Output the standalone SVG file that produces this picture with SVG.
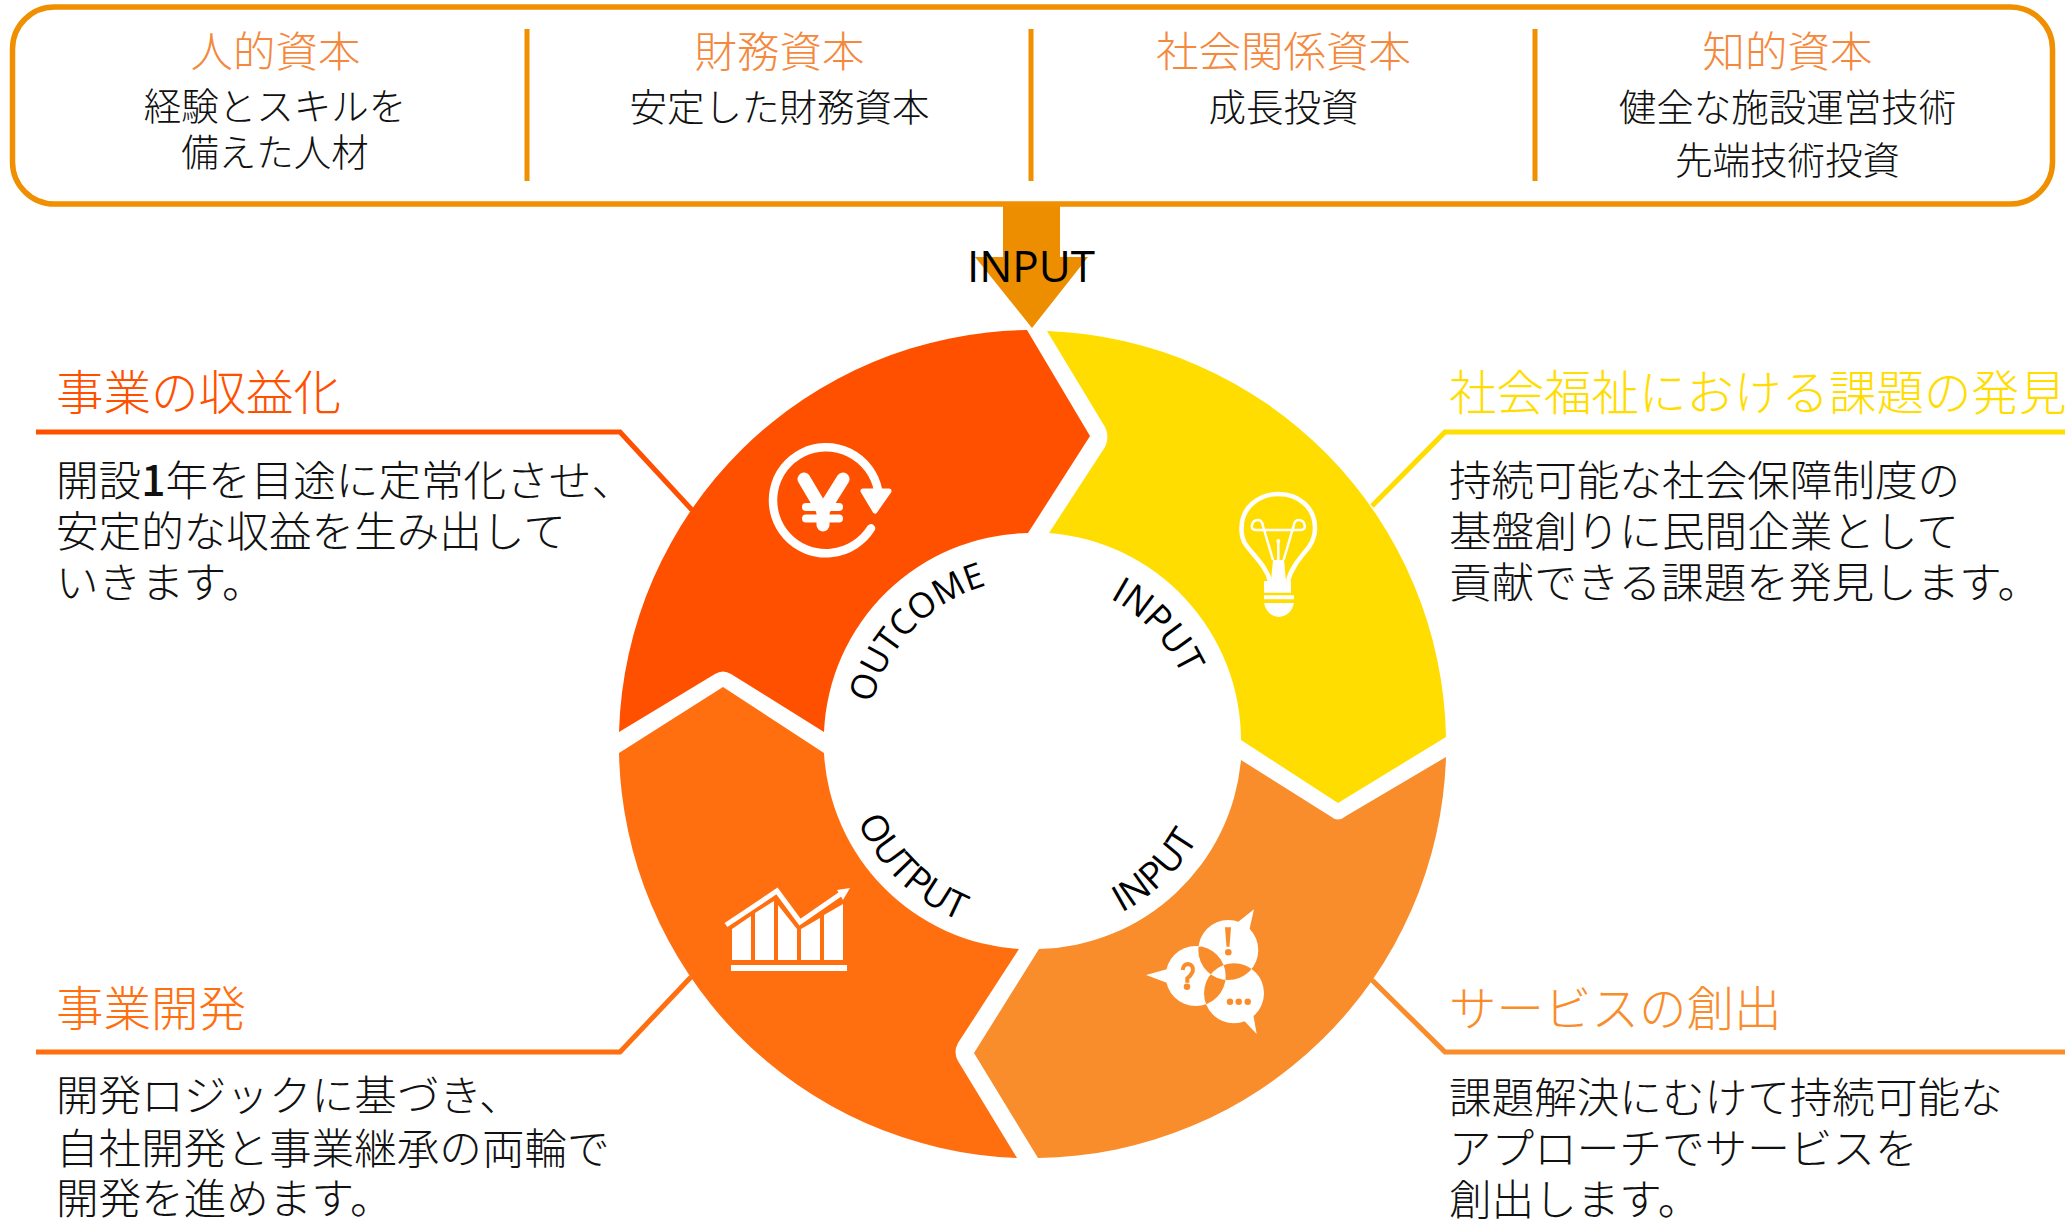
<svg xmlns="http://www.w3.org/2000/svg" width="2065" height="1219" viewBox="0 0 2065 1219">
<style>
text{font-family:"Noto Sans CJK JP","Noto Sans",sans-serif;font-weight:300}
.h{font-size:42.500px;fill:#F4883C;text-anchor:middle}
.b{font-size:37.500px;fill:#111;text-anchor:middle}
.t{font-size:47.500px}
.p{font-size:42.600px;fill:#111}
.c{font-family:"Open Sans","Noto Sans",sans-serif;fill:#000;font-weight:400;text-anchor:middle}
.ln{fill:none;stroke-width:5}
.w{fill:#fff}
.o{fill:#F98D2B}
</style>
<defs>
<path id="arcT" d="M867 744A165 165 0 0 1 1197 744"/>
<path id="arcB" d="M841 744A191 191 0 0 0 1223 744"/>
</defs>
<rect width="2065" height="1219" fill="#fff"/>
<g id="connectors">
<path class="ln" stroke="#FF5000" d="M36 432H620L692 510"/>
<path class="ln" stroke="#FFDD00" d="M2065 432H1445L1372 506"/>
<path class="ln" stroke="#FF6F0F" d="M36 1052H620L691 977"/>
<path class="ln" stroke="#F98D2B" d="M2065 1052H1445L1372 980"/>
<path fill="#ED8E00" d="M1003 204H1060V257H1088L1032 328L975 257H1003Z"/>
</g>
<g id="capital-box">
<rect x="12.500" y="7" width="2040" height="197" rx="42" ry="42" fill="none" stroke="#F09000" stroke-width="5.500"/>
<path stroke="#F09000" stroke-width="5" d="M527 29V181M1031 29V181M1535 29V181"/>
<text class="h" x="275.500" y="67">人的資本</text>
<text class="b" x="275" y="120">経験とスキルを</text>
<text class="b" x="275" y="165.500">備えた人材</text>
<text class="h" x="779.500" y="67">財務資本</text>
<text class="b" x="779.500" y="121">安定した財務資本</text>
<text class="h" x="1283.500" y="67">社会関係資本</text>
<text class="b" x="1283.500" y="121">成長投資</text>
<text class="h" x="1787.500" y="67">知的資本</text>
<text class="b" x="1787.500" y="121">健全な施設運営技術</text>
<text class="b" x="1787.500" y="174">先端技術投資</text>
</g>
<text id="input-label" x="1031" y="282" font-size="44" fill="#000" text-anchor="middle" style="font-family:'Open Sans','Noto Sans',sans-serif;font-weight:400">INPUT</text>
<g id="seg-outcome">
<path fill="#FF5000" d="M1027 330L1090 436L1028 533A208 208 0 0 0 824 732L731 674Q723 669 715 674L619 732A414 414 0 0 1 1027 330Z"/>
<g id="yen-icon">
<path d="M871 528.300A53 53 0 1 1 878 490" fill="none" stroke="#fff" stroke-width="8.500" stroke-linecap="round"/>
<path class="w" stroke="#fff" stroke-width="5" stroke-linejoin="round" d="M863 491H889L875 511Z"/>
<path fill="none" stroke="#fff" stroke-width="13" stroke-linecap="round" stroke-linejoin="round" d="M804 479L823 511L843 479"/>
<path fill="none" stroke="#fff" stroke-width="8" stroke-linecap="round" d="M806 507H839M806 518.500H839"/>
<path fill="none" stroke="#fff" stroke-width="13" stroke-linecap="round" d="M823 510V525"/>
</g>
</g>
<g id="seg-input-top">
<path fill="#FFDD00" d="M1047 331A414 414 0 0 1 1446 737L1338 803L1241 740A208 208 0 0 0 1049 533L1105 447Q1110 437 1105 427Z"/>
<g id="bulb-icon" fill="none" stroke="#fff">
<path stroke-width="4.500" d="M1270 581C1266 566 1254 556 1246 545C1241 538 1241.500 530 1241.500 528C1241.500 508 1258 494 1278.500 494C1299 494 1315 508 1315 528C1315 535 1313 541 1309 547C1300 558 1291 568 1288 581"/>
<path stroke-width="2.500" d="M1262 530H1256Q1251 530 1252 525Q1253 520 1258 520Q1262 520 1263 526L1273 560M1262 530H1294.600H1300.600Q1305.600 530 1304.600 525Q1303.600 520 1298.600 520Q1294.600 520 1293.600 526L1283.600 560M1278.300 541V560"/>
<circle class="w" cx="1278.300" cy="541" r="2" stroke="none"/>
<path class="w" stroke="none" d="M1273 560H1284L1286 581H1291V592.700H1264V581H1271ZM1264 595.300H1294V599.300H1264ZM1264 603H1294Q1291 616 1278.500 617Q1267 616 1264 603Z"/>
</g>
</g>
<g id="seg-input-bottom">
<path fill="#F98D2B" d="M1039 949A208 208 0 0 0 1241 760L1330 816Q1338 823 1346 816L1446 757A414 414 0 0 1 1038 1158L974 1053Z"/>
<g id="bubbles-icon">
<path class="w" fill-rule="evenodd" d="M1198.300 950a30 30 0 1 0 60 0a30 30 0 1 0-60 0ZM1165.700 976a30 30 0 1 0 60 0a30 30 0 1 0-60 0ZM1204 993.300a30 30 0 1 0 60 0a30 30 0 1 0-60 0Z"/>
<path class="w" d="M1238.300 921.700L1254 909.300L1249.300 930ZM1166.700 969.300L1146 975L1166.700 982.700ZM1241.700 1018.300L1256.700 1034L1253.300 1015Z"/>
<path class="o" d="M1225 927.300h6l-1.500 19.400h-3Z"/>
<circle class="o" cx="1228.300" cy="952.300" r="3.300"/>
<path fill="none" stroke="#F98D2B" stroke-width="4" d="M1182.700 970Q1183.300 964 1188.300 964Q1194 965 1192.700 971.700Q1190.700 976 1187.300 978.300V982.700"/>
<circle class="o" cx="1187" cy="986.700" r="3.300"/>
<circle class="o" cx="1230" cy="1001.700" r="3.200"/>
<circle class="o" cx="1238.700" cy="1001.700" r="3.200"/>
<circle class="o" cx="1247.700" cy="1001.700" r="3.200"/>
</g>
</g>
<g id="seg-output">
<path fill="#FF6F0F" d="M619 753L723 687L824 753A208 208 0 0 0 1019 949L958 1043Q953 1052 958 1061L1017 1158A414 414 0 0 1 619 753Z"/>
<g id="chart-icon">
<path class="w" d="M732 960V929L751 916V960ZM755 960V913L774 901V960ZM778 960V905L797 929V960ZM801 960V929L820 918V960ZM824 960V915L843 904V960ZM731 965H847V971H731Z"/>
<path fill="none" stroke="#fff" stroke-width="5" d="M726 925L777 891L800 922L842 893"/>
<path class="w" d="M850 888L837 890L843 900Z"/>
</g>
</g>
<g id="ring-labels">
<text class="c" style="font-size:35px"><textPath href="#arcT" startOffset="24.500%">OUTCOME</textPath></text>
<text class="c" style="font-size:37px"><textPath href="#arcT" startOffset="76%">INPUT</textPath></text>
<text class="c" style="font-size:37px"><textPath href="#arcB" startOffset="74.500%">INPUT</textPath></text>
<text class="c" style="font-size:37px"><textPath href="#arcB" startOffset="25.500%">OUTPUT</textPath></text>
</g>
<g id="note-revenue">
<text class="t" x="56" y="410" fill="#FF5000">事業の収益化</text>
<text class="p" x="56" y="496">開設<tspan font-weight="500">1</tspan>年を目途に定常化させ、</text>
<text class="p" x="56" y="547">安定的な収益を生み出して</text>
<text class="p" x="56" y="598">いきます。</text>
</g>
<g id="note-discovery">
<text class="t" x="1449" y="410" fill="#FFDD00">社会福祉における課題の発見</text>
<text class="p" x="1449" y="496">持続可能な社会保障制度の</text>
<text class="p" x="1449" y="547">基盤創りに民間企業として</text>
<text class="p" x="1449" y="598">貢献できる課題を発見します。</text>
</g>
<g id="note-development">
<text class="t" x="56" y="1026" fill="#FF6F0F">事業開発</text>
<text class="p" x="56" y="1111">開発ロジックに基づき、</text>
<text class="p" x="56" y="1164">自社開発と事業継承の両輪で</text>
<text class="p" x="56" y="1214">開発を進めます。</text>
</g>
<g id="note-service">
<text class="t" x="1449" y="1026" fill="#F98D2B">サービスの創出</text>
<text class="p" x="1449" y="1113">課題解決にむけて持続可能な</text>
<text class="p" x="1449" y="1164">アプローチでサービスを</text>
<text class="p" x="1449" y="1215">創出します。</text>
</g>
</svg>
